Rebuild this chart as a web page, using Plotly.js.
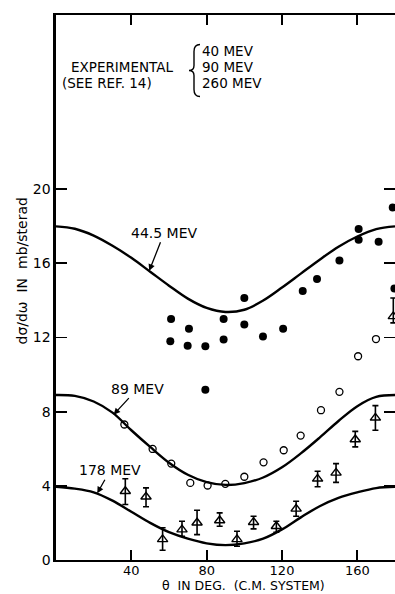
<!DOCTYPE html>
<html>
<head>
<meta charset="utf-8">
<script src="https://cdn.plot.ly/plotly-3.0.1.min.js"></script>
<style>
html,body{margin:0;padding:0;background:#fff;}
#chart{width:395px;height:594px;}
</style>
</head>
<body>
<div id="chart"></div>
<script>
// ---- Data ----
// Theoretical curves (angle in degrees, cross-section in mb/sterad)
const curveAngles = [0,10,20,30,40,50,60,70,80,90,100,110,120,130,140,150,160,170,180];
const curve44 = [18.0,17.87,17.5,16.95,16.3,15.55,14.8,14.1,13.6,13.38,13.5,14.0,14.7,15.45,16.2,16.9,17.45,17.85,18.0];
const curve89 = [8.9,8.85,8.55,7.95,7.0,6.1,5.25,4.6,4.2,4.05,4.15,4.45,5.0,5.75,6.6,7.5,8.3,8.8,8.9];
const curve178 = [3.95,3.85,3.65,3.2,2.6,2.0,1.5,1.15,0.9,0.8,0.9,1.15,1.65,2.3,2.9,3.35,3.65,3.88,3.95];

// Experimental 40 MeV (filled circles)
const exp40Angle = [61.1,60.7,70.6,69.9,79.3,79.3,89.0,89.0,100.0,100.0,109.9,120.6,131.0,138.6,150.5,160.7,160.7,171.3,178.8,179.7];
const exp40Value = [13.0,11.8,12.48,11.56,11.53,9.19,13.0,11.89,14.13,12.7,12.06,12.48,14.51,15.16,16.15,17.85,17.28,17.17,19.02,14.64];

// Experimental 90 MeV (open circles)
const exp90Angle = [36.3,51.3,61.2,71.3,80.5,89.9,100.0,110.2,120.9,129.9,140.7,150.5,160.4,169.9];
const exp90Value = [7.31,5.99,5.2,4.16,4.02,4.11,4.49,5.27,5.92,6.71,8.08,9.07,10.99,11.92];

// Experimental 260 MeV (open triangles with error bars)
const exp260Angle = [36.8,47.8,56.6,66.9,74.9,86.9,96.1,104.9,117.0,127.5,138.9,148.7,158.9,169.6,179.1];
const exp260Value = [3.71,3.41,1.11,1.64,2.01,2.13,1.11,2.04,1.82,2.76,4.38,4.7,6.5,7.67,13.14];
const exp260High  = [4.38,3.89,1.74,2.09,2.68,2.54,1.55,2.36,2.09,3.17,4.79,5.2,6.94,8.33,14.13];
const exp260Low   = [2.99,2.87,0.53,1.28,1.37,1.82,0.74,1.68,1.5,2.36,3.95,4.19,6.1,7.0,12.79];

const xTicks = [40,80,120,160];
const yTicks = [0,4,8,12,16,20];

const curveLabels = ["44.5 MEV","89 MEV","178 MEV"];
const legendLabels = ["40 MEV","90 MEV","260 MEV"];

// ---- Layout helpers (pixel -> paper) ----
const L = 56, PW = 339, BOT = 560.5, PH = 545;
const px = x => (x - L) / PW;
const py = y => (BOT - y) / PH;

const FONT = "DejaVu Sans, Liberation Sans, sans-serif";
const lineStyle = {color:'#000', width:2.4, shape:'spline', smoothing:1.0};

const traces = [
  {x:curveAngles, y:curve44, mode:'lines', line:lineStyle, hoverinfo:'skip'},
  {x:curveAngles, y:curve89, mode:'lines', line:lineStyle, hoverinfo:'skip'},
  {x:curveAngles, y:curve178, mode:'lines', line:lineStyle, hoverinfo:'skip'},
  {x:exp40Angle, y:exp40Value, mode:'markers',
   marker:{symbol:'circle', size:8, color:'#000'}},
  {x:exp90Angle, y:exp90Value, mode:'markers',
   marker:{symbol:'circle-open', size:7, color:'#000', line:{width:1.3, color:'#000'}}},
  {x:exp260Angle, y:exp260Value, mode:'markers',
   marker:{symbol:'triangle-up-open', size:9, color:'#000', line:{width:1.4, color:'#000'}},
   error_y:{type:'data', symmetric:false,
     array: exp260High.map((h,i)=>h-exp260Value[i]),
     arrayminus: exp260Value.map((v,i)=>v-exp260Low[i]),
     color:'#000', thickness:1.6, width:3}}
];

const brace = `M ${px(200)},${py(45)} Q ${px(194)},${py(45)} ${px(194)},${py(52)} L ${px(194)},${py(66)} Q ${px(194)},${py(71)} ${px(189)},${py(71)} Q ${px(194)},${py(71)} ${px(194)},${py(76)} L ${px(194)},${py(90)} Q ${px(194)},${py(97)} ${px(200)},${py(97)}`;

const textFont = {family:FONT, size:13.5, color:'#000'};

const annotations = [
  // curve labels with arrows (head at a point on the curve)
  {xref:'x', yref:'y', x:49.5, y:15.6, ax:15, ay:-38, text:curveLabels[0],
   showarrow:true, arrowhead:2, arrowsize:1, arrowwidth:1.3, arrowcolor:'#000',
   font:{family:FONT, size:14, color:'#000'}},
  {xref:'x', yref:'y', x:30.6, y:7.84, ax:24, ay:-26, text:curveLabels[1],
   showarrow:true, arrowhead:2, arrowsize:1, arrowwidth:1.3, arrowcolor:'#000',
   font:{family:FONT, size:14, color:'#000'}},
  {xref:'x', yref:'y', x:21.9, y:3.6, ax:13, ay:-23, text:curveLabels[2],
   showarrow:true, arrowhead:2, arrowsize:1, arrowwidth:1.3, arrowcolor:'#000',
   font:{family:FONT, size:14, color:'#000'}},
  // experimental legend
  {xref:'paper', yref:'paper', x:px(122), y:py(68), text:'EXPERIMENTAL', showarrow:false,
   xanchor:'center', yanchor:'middle', font:textFont},
  {xref:'paper', yref:'paper', x:px(60), y:py(83), text:'(SEE REF. 14)', showarrow:false,
   xanchor:'left', yanchor:'middle', font:textFont},
  {xref:'paper', yref:'paper', x:px(200), y:py(52), text:legendLabels[0], showarrow:false,
   xanchor:'left', yanchor:'middle', font:textFont},
  {xref:'paper', yref:'paper', x:px(200), y:py(68), text:legendLabels[1], showarrow:false,
   xanchor:'left', yanchor:'middle', font:textFont},
  {xref:'paper', yref:'paper', x:px(200), y:py(84), text:legendLabels[2], showarrow:false,
   xanchor:'left', yanchor:'middle', font:textFont},
  // axis titles
  {xref:'paper', yref:'paper', x:px(21), y:py(272), text:'dσ/dω  IN  mb/sterad', showarrow:false,
   textangle:-90, xanchor:'center', yanchor:'middle', font:{family:FONT, size:14, color:'#000'}},
  {xref:'paper', yref:'paper', x:px(243), y:py(586), text:'θ  IN DEG.  (C.M. SYSTEM)', showarrow:false,
   xanchor:'center', yanchor:'middle', font:{family:FONT, size:12.5, color:'#000'}}
];

const layout = {
  width:395, height:594,
  margin:{l:L, r:0, t:15, b:594-BOT, pad:0},
  paper_bgcolor:'#fff', plot_bgcolor:'#fff',
  showlegend:false,
  font:{family:FONT, color:'#000'},
  xaxis:{range:[0,180], tickvals:xTicks, ticktext:xTicks.map(String),
    showgrid:false, zeroline:false, showline:true, linecolor:'#000', linewidth:2.4,
    mirror:'ticks', ticks:'inside', ticklen:10, tickwidth:1.8, tickcolor:'#000',
    ticklabelstandoff:-3,
    tickfont:{family:FONT, size:13, color:'#000'}, fixedrange:true},
  yaxis:{range:[0,29.4], tickvals:yTicks, ticktext:yTicks.map(String),
    showgrid:false, zeroline:false, showline:true, linecolor:'#000', linewidth:2.6,
    mirror:'ticks', ticks:'inside', ticklen:11, tickwidth:1.8, tickcolor:'#000',
    tickfont:{family:FONT, size:14, color:'#000'}, fixedrange:true},
  shapes:[{type:'path', xref:'paper', yref:'paper', path:brace, line:{color:'#000', width:1.4}}],
  annotations:annotations
};

Plotly.newPlot('chart', traces, layout, {displayModeBar:false, staticPlot:true});
</script>
</body>
</html>
